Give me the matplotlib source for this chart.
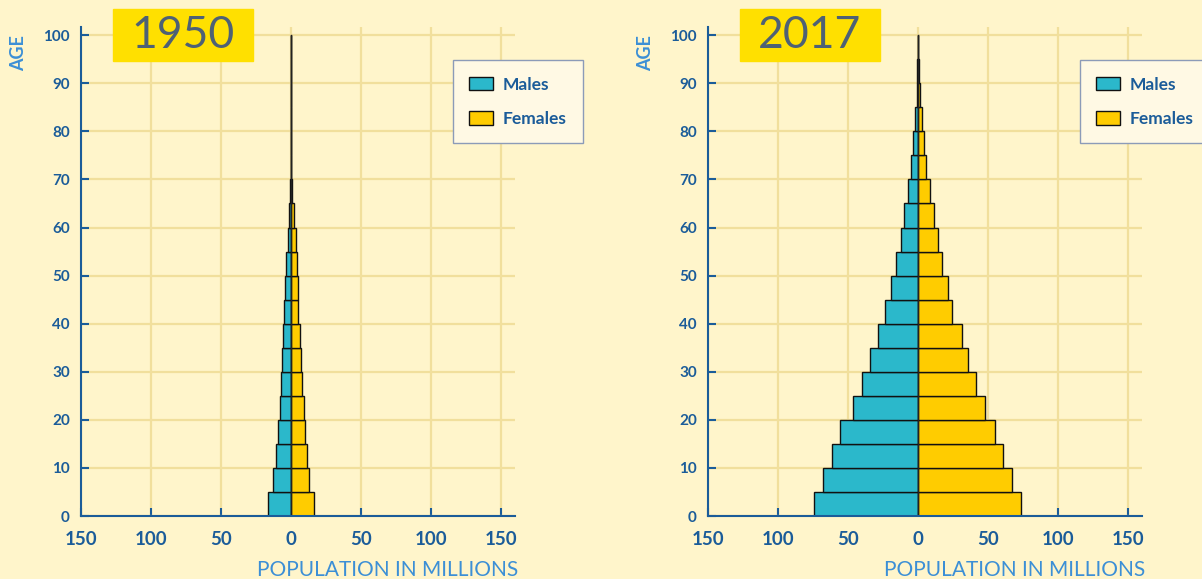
import matplotlib
matplotlib.use("Agg")
import matplotlib.pyplot as plt
from matplotlib.patches import Rectangle
from matplotlib.ticker import FuncFormatter

plt.rcParams["font.family"] = ["Lato", "DejaVu Sans"]

# age groups (lower bound of each 5-year band)
ages = [0, 5, 10, 15, 20, 25, 30, 35, 40, 45, 50, 55, 60, 65, 70, 75, 80, 85, 90, 95]

# population in millions
males_1950 = [16.2, 12.6, 10.7, 9.3, 7.9, 7.1, 6.7, 6.0, 4.8, 4.0, 3.3, 2.4, 1.2, 0.5, 0.2, 0.1, 0.0, 0.0, 0.0, 0.0]
females_1950 = [16.7, 13.1, 11.4, 10.2, 9.5, 7.9, 7.1, 6.7, 5.2, 4.8, 4.0, 3.8, 2.4, 1.0, 0.3, 0.2, 0.1, 0.0, 0.0, 0.0]
males_2017 = [74.4, 67.6, 61.4, 55.6, 46.6, 40.1, 34.3, 28.3, 23.7, 19.6, 15.5, 12.3, 9.7, 6.8, 5.3, 3.4, 2.4, 1.0, 0.6, 0.1]
females_2017 = [73.7, 67.4, 60.9, 54.8, 47.6, 41.5, 36.0, 31.6, 24.4, 21.5, 17.1, 14.3, 11.4, 8.5, 6.0, 4.1, 2.7, 1.2, 0.5, 0.1]

years = ["1950", "2017"]
x_ticks = [-150, -100, -50, 0, 50, 100, 150]
y_ticks = [0, 10, 20, 30, 40, 50, 60, 70, 80, 90, 100]

# colours
BG = "#FFF5CB"
GRID = "#F1DF9C"
MALE = "#2BB8CB"
FEMALE = "#FFCC00"
AXIS = "#1B5C99"
LABEL = "#3C8FD6"
TITLE_BOX = "#FFE000"
TITLE_TXT = "#4E6175"

W, H = 1202, 579
fig = plt.figure(figsize=(W / 100, H / 100), dpi=100, facecolor=BG)

data = [(males_1950, females_1950), (males_2017, females_2017)]
lefts = [81, 708]

for i, (males, females) in enumerate(data):
    x0 = lefts[i]
    ax = fig.add_axes([x0 / W, 63 / H, 434 / W, 489 / H])
    ax.set_facecolor(BG)

    ax.barh(ages, [-m for m in males], height=5, align="edge", color=MALE,
            edgecolor="#111111", linewidth=1, label="Males", zorder=3)
    ax.barh(ages, females, height=5, align="edge", color=FEMALE,
            edgecolor="#111111", linewidth=1, label="Females", zorder=3)
    ax.plot([0, 0], [0, 100], color="#222222", linewidth=1, zorder=4)

    ax.set_xlim(-150, 160)
    ax.set_ylim(0, 101.7)
    ax.set_xticks(x_ticks)
    ax.set_yticks(y_ticks)
    ax.xaxis.set_major_formatter(FuncFormatter(lambda v, p: f"{abs(int(v))}"))
    ax.grid(True, color=GRID, linewidth=1.6, zorder=0)

    for s in ["top", "right"]:
        ax.spines[s].set_visible(False)
    for s in ["left", "bottom"]:
        ax.spines[s].set_color(AXIS)
        ax.spines[s].set_linewidth(1.5)
        ax.spines[s].set_zorder(5)

    ax.tick_params(direction="in", length=6, width=1.5, color=AXIS)
    ax.tick_params(axis="x", labelsize=13.5, labelcolor=AXIS, pad=11)
    ax.tick_params(axis="y", labelsize=11, labelcolor=AXIS, pad=8)
    for t in ax.get_xticklabels() + ax.get_yticklabels():
        t.set_fontweight("bold")

    leg = ax.legend(loc="upper left", bbox_to_anchor=(0.857, 0.9325),
                    borderaxespad=0, fontsize=12.5, frameon=True, fancybox=False,
                    handlelength=1.35, handleheight=0.85, labelspacing=1.05,
                    borderpad=0.95, handletextpad=0.55)
    leg.get_frame().set_facecolor("#FFF9E4")
    leg.get_frame().set_edgecolor("#8C9BB8")
    leg.get_frame().set_alpha(1)
    for t in leg.get_texts():
        t.set_color(AXIS)
        t.set_fontweight("bold")

    # year box
    bx = x0 + 32
    fig.add_artist(Rectangle((bx / W, 1 - 61 / H), 140 / W, 52 / H,
                             transform=fig.transFigure, color=TITLE_BOX, zorder=10))
    fig.text((bx + 70) / W, 1 - 36 / H, years[i], ha="center", va="center",
             fontsize=32, color=TITLE_TXT, zorder=11)

    fig.text((x0 - 62) / W, 1 - 35 / H, "AGE", rotation=90, ha="center", va="top",
             fontsize=13, fontweight="bold", color=LABEL)
    fig.text((x0 + 437) / W, 1 - 576 / H, "POPULATION IN MILLIONS", ha="right",
             va="baseline", fontsize=15, color=LABEL)

fig.savefig("out.png", dpi=100, facecolor=BG)
